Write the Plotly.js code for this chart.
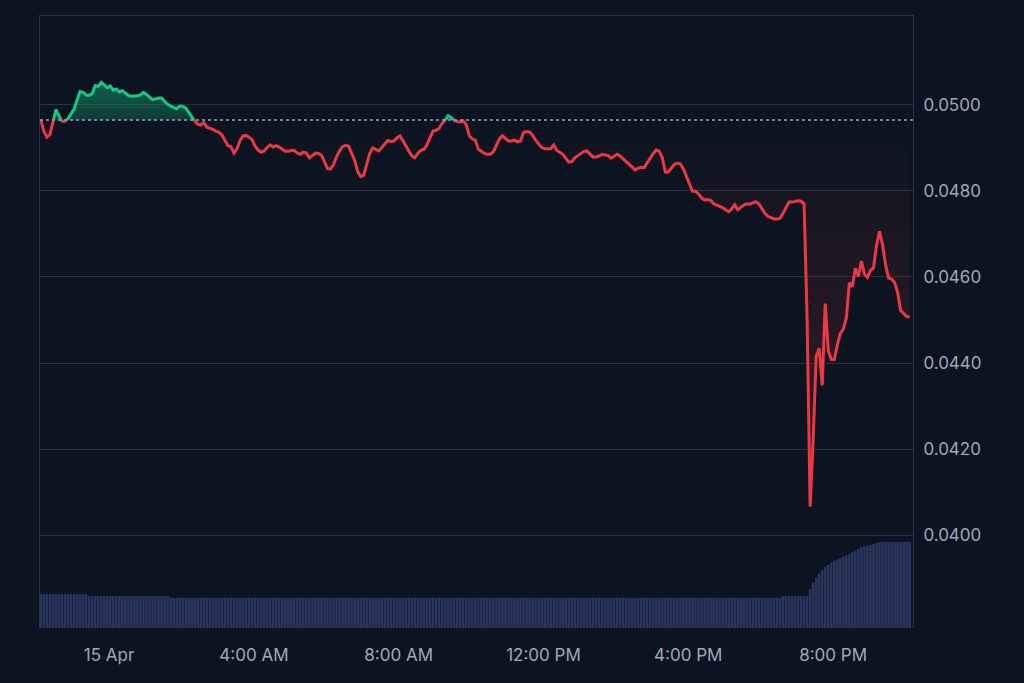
<!DOCTYPE html>
<html>
<head>
<meta charset="utf-8">
<script src="https://cdn.plot.ly/plotly-3.0.1.min.js"></script>
<style>
  html, body { margin: 0; padding: 0; background: #0d1421; }
  #chart { width: 1024px; height: 683px; }
</style>
</head>
<body>
<div id="chart"></div>
<script>
// 24h price, one point every 5 minutes
var startTime = Date.UTC(2024, 3, 14, 22, 7);
var stepMinutes = 5;

var prices = [
  0.04965, 0.04938, 0.04925, 0.04931, 0.04960, 0.04989, 0.04974, 0.04962, 0.04962, 0.04968,
  0.04979, 0.04990, 0.05012, 0.05031, 0.05029, 0.05023, 0.05022, 0.05026, 0.05045, 0.05043,
  0.05052, 0.05046, 0.05040, 0.05044, 0.05034, 0.05037, 0.05030, 0.05033, 0.05027, 0.05022,
  0.05020, 0.05020, 0.05021, 0.05023, 0.05029, 0.05024, 0.05018, 0.05012, 0.05014, 0.05016,
  0.05016, 0.05009, 0.05001, 0.04997, 0.04994, 0.04991, 0.04997, 0.04996, 0.04993, 0.04983,
  0.04972, 0.04962, 0.04955, 0.04953, 0.04959, 0.04948, 0.04946, 0.04943, 0.04939, 0.04936,
  0.04930, 0.04916, 0.04905, 0.04903, 0.04888, 0.04898, 0.04917, 0.04928, 0.04929, 0.04925,
  0.04919, 0.04904, 0.04895, 0.04890, 0.04893, 0.04901, 0.04907, 0.04902, 0.04905, 0.04902,
  0.04897, 0.04892, 0.04892, 0.04894, 0.04894, 0.04888, 0.04885, 0.04890, 0.04888, 0.04877,
  0.04882, 0.04888, 0.04887, 0.04883, 0.04868, 0.04852, 0.04851, 0.04861, 0.04879, 0.04893,
  0.04903, 0.04906, 0.04904, 0.04889, 0.04871, 0.04845, 0.04833, 0.04836, 0.04862, 0.04887,
  0.04900, 0.04897, 0.04893, 0.04901, 0.04908, 0.04917, 0.04915, 0.04916, 0.04923, 0.04928,
  0.04917, 0.04903, 0.04892, 0.04881, 0.04877, 0.04888, 0.04894, 0.04897, 0.04907, 0.04924,
  0.04939, 0.04941, 0.04945, 0.04957, 0.04964, 0.04975, 0.04970, 0.04964, 0.04961, 0.04960,
  0.04963, 0.04954, 0.04928, 0.04921, 0.04918, 0.04897, 0.04892, 0.04887, 0.04885, 0.04885,
  0.04891, 0.04905, 0.04921, 0.04928, 0.04921, 0.04916, 0.04916, 0.04918, 0.04914, 0.04916,
  0.04936, 0.04938, 0.04937, 0.04929, 0.04918, 0.04908, 0.04901, 0.04898, 0.04898, 0.04898,
  0.04907, 0.04894, 0.04890, 0.04885, 0.04876, 0.04867, 0.04868, 0.04877, 0.04882, 0.04888,
  0.04892, 0.04893, 0.04887, 0.04879, 0.04879, 0.04881, 0.04885, 0.04883, 0.04882, 0.04876,
  0.04881, 0.04885, 0.04881, 0.04875, 0.04869, 0.04863, 0.04855, 0.04849, 0.04853, 0.04855,
  0.04854, 0.04865, 0.04879, 0.04887, 0.04895, 0.04892, 0.04877, 0.04844, 0.04844, 0.04854,
  0.04862, 0.04864, 0.04863, 0.04851, 0.04834, 0.04815, 0.04799, 0.04799, 0.04793, 0.04784,
  0.04779, 0.04780, 0.04778, 0.04770, 0.04767, 0.04764, 0.04761, 0.04756, 0.04752, 0.04758,
  0.04768, 0.04756, 0.04762, 0.04767, 0.04770, 0.04769, 0.04772, 0.04775, 0.04770, 0.04759,
  0.04748, 0.04741, 0.04737, 0.04735, 0.04735, 0.04736, 0.04748, 0.04763, 0.04774, 0.04774,
  0.04775, 0.04777, 0.04776, 0.04770, 0.04499, 0.04066, 0.04220, 0.04415, 0.04434, 0.04348,
  0.04538, 0.04429, 0.04408, 0.04408, 0.04441, 0.04469, 0.04479, 0.04504, 0.04587, 0.04577,
  0.04620, 0.04601, 0.04637, 0.04607, 0.04599, 0.04615, 0.04621, 0.04673, 0.04706, 0.04675,
  0.04628, 0.04598, 0.04595, 0.04587, 0.04564, 0.04522, 0.04515, 0.04508, 0.04507
];

// 24h volume (millions), same timestamps
var volumes = [
  1.32, 1.32, 1.32, 1.32, 1.32, 1.32, 1.32, 1.32, 1.32, 1.32,
  1.32, 1.32, 1.32, 1.32, 1.32, 1.32, 1.24, 1.24, 1.24, 1.24,
  1.24, 1.24, 1.24, 1.24, 1.24, 1.24, 1.24, 1.24, 1.24, 1.24,
  1.24, 1.24, 1.24, 1.24, 1.24, 1.24, 1.24, 1.24, 1.24, 1.24,
  1.24, 1.24, 1.24, 1.17, 1.17, 1.17, 1.17, 1.17, 1.17, 1.17,
  1.17, 1.17, 1.17, 1.17, 1.17, 1.17, 1.17, 1.17, 1.17, 1.17,
  1.17, 1.17, 1.17, 1.17, 1.17, 1.17, 1.17, 1.17, 1.17, 1.17,
  1.17, 1.17, 1.17, 1.17, 1.17, 1.17, 1.17, 1.17, 1.17, 1.17,
  1.17, 1.17, 1.17, 1.17, 1.17, 1.17, 1.17, 1.17, 1.17, 1.17,
  1.17, 1.17, 1.17, 1.17, 1.17, 1.17, 1.17, 1.17, 1.17, 1.17,
  1.17, 1.17, 1.17, 1.17, 1.17, 1.17, 1.17, 1.17, 1.17, 1.17,
  1.17, 1.17, 1.17, 1.17, 1.17, 1.17, 1.17, 1.17, 1.17, 1.17,
  1.17, 1.17, 1.17, 1.17, 1.17, 1.17, 1.17, 1.17, 1.17, 1.17,
  1.17, 1.17, 1.17, 1.17, 1.17, 1.17, 1.17, 1.17, 1.17, 1.17,
  1.17, 1.17, 1.17, 1.17, 1.17, 1.17, 1.17, 1.17, 1.17, 1.17,
  1.17, 1.17, 1.17, 1.17, 1.17, 1.17, 1.17, 1.17, 1.17, 1.17,
  1.17, 1.17, 1.17, 1.17, 1.17, 1.17, 1.17, 1.17, 1.17, 1.17,
  1.17, 1.17, 1.17, 1.17, 1.17, 1.17, 1.17, 1.17, 1.17, 1.17,
  1.17, 1.17, 1.17, 1.17, 1.17, 1.17, 1.17, 1.17, 1.17, 1.17,
  1.17, 1.17, 1.17, 1.17, 1.17, 1.15, 1.15, 1.15, 1.17, 1.17,
  1.17, 1.17, 1.17, 1.17, 1.17, 1.17, 1.17, 1.17, 1.17, 1.17,
  1.17, 1.17, 1.17, 1.17, 1.17, 1.17, 1.17, 1.17, 1.17, 1.17,
  1.17, 1.17, 1.17, 1.17, 1.17, 1.17, 1.17, 1.17, 1.17, 1.17,
  1.17, 1.17, 1.17, 1.17, 1.17, 1.17, 1.17, 1.17, 1.17, 1.17,
  1.17, 1.17, 1.17, 1.17, 1.17, 1.17, 1.24, 1.24, 1.24, 1.24,
  1.24, 1.24, 1.24, 1.24, 1.24, 1.52, 1.78, 1.98, 2.15, 2.28,
  2.40, 2.50, 2.58, 2.65, 2.70, 2.76, 2.82, 2.88, 2.94, 3.00,
  3.06, 3.13, 3.20, 3.23, 3.26, 3.29, 3.33, 3.37, 3.40, 3.41,
  3.41, 3.41, 3.41, 3.41, 3.41, 3.41, 3.41, 3.41, 3.41
];

var tickTimes = ['2024-04-15 00:00', '2024-04-15 04:00', '2024-04-15 08:00',
                 '2024-04-15 12:00', '2024-04-15 16:00', '2024-04-15 20:00'];
var tickLabels = ['15 Apr', '4:00 AM', '8:00 AM', '12:00 PM', '4:00 PM', '8:00 PM'];
var priceTicks = [0.0400, 0.0420, 0.0440, 0.0460, 0.0480, 0.0500];

var green = '#16c784';
var red = '#ea3943';
var base = prices[0];

var times = prices.map(function (p, i) { return startTime + i * stepMinutes * 60000; });

// split into above / below the opening price, adding the crossing points
var fX = [], upFill = [], dnFill = [];
var upX = [], upY = [], dnX = [], dnY = [];
for (var i = 0; i < prices.length; i++) {
  if (i > 0) {
    var a = prices[i - 1] - base, b = prices[i] - base;
    if ((a > 0 && b < 0) || (a < 0 && b > 0)) {
      var tc = times[i - 1] + (times[i] - times[i - 1]) * a / (a - b);
      fX.push(tc); upFill.push(base); dnFill.push(base);
      upX.push(tc); upY.push(base);
      dnX.push(tc); dnY.push(base);
    }
  }
  var p = prices[i];
  fX.push(times[i]);
  upFill.push(Math.max(p, base));
  dnFill.push(Math.min(p, base));
  upX.push(times[i]); upY.push(p >= base ? p : null);
  dnX.push(times[i]); dnY.push(p <= base ? p : null);
}
var baseLine = fX.map(function () { return base; });
var minP = Math.min.apply(null, prices);
var maxP = Math.max.apply(null, prices);

var data = [
  { x: fX, y: baseLine, type: 'scatter', mode: 'lines', line: { width: 0 }, hoverinfo: 'skip' },
  { x: fX, y: upFill, type: 'scatter', mode: 'lines', line: { width: 0 }, fill: 'tonexty',
    fillgradient: { type: 'vertical', start: base, stop: maxP,
      colorscale: [[0, 'rgba(22,199,132,0.22)'], [1, 'rgba(22,199,132,0.42)']] },
    hoverinfo: 'skip' },
  { x: fX, y: baseLine, type: 'scatter', mode: 'lines', line: { width: 0 }, hoverinfo: 'skip' },
  { x: fX, y: dnFill, type: 'scatter', mode: 'lines', line: { width: 0 }, fill: 'tonexty',
    fillgradient: { type: 'vertical', start: minP, stop: base,
      colorscale: [[0, 'rgba(234,57,67,0.2)'], [1, 'rgba(234,57,67,0.0)']] },
    hoverinfo: 'skip' },
  { x: dnX, y: dnY, type: 'scatter', mode: 'lines', connectgaps: false,
    line: { color: red, width: 3 } },
  { x: upX, y: upY, type: 'scatter', mode: 'lines', connectgaps: false,
    line: { color: green, width: 3 } },
  { x: times, y: volumes, type: 'bar', yaxis: 'y2',
    marker: { color: '#2b365f', line: { width: 0 } } }
];

var layout = {
  width: 1024, height: 683,
  paper_bgcolor: '#0d1421',
  plot_bgcolor: '#0d1421',
  showlegend: false,
  margin: { l: 40, r: 111, t: 16, b: 56 },
  bargap: 0.15,
  font: { family: 'Inter, "Noto Sans", sans-serif', color: '#a1a7b7', size: 17 },
  xaxis: {
    type: 'date',
    range: ['2024-04-14 22:05:30', '2024-04-15 22:12:30'],
    tickvals: tickTimes, ticktext: tickLabels,
    showgrid: false, zeroline: false,
    showline: true, mirror: true, linecolor: '#2c3344', linewidth: 1,
    ticks: '', ticklabelstandoff: 13
  },
  yaxis: {
    side: 'right',
    range: [0.037865, 0.052065],
    tickvals: priceTicks, tickformat: '.4f',
    showgrid: true, gridcolor: '#2a3140', gridwidth: 1,
    zeroline: false,
    showline: true, mirror: true, linecolor: '#2c3344', linewidth: 1,
    ticks: '', ticklabelstandoff: 6
  },
  yaxis2: {
    overlaying: 'y', range: [0, 24.48], visible: false, fixedrange: true
  },
  shapes: [{
    type: 'line', xref: 'paper', x0: 0, x1: 1, yref: 'y', y0: base, y1: base,
    line: { color: '#9aa0ad', width: 1.5, dash: 'dot' }
  }],
  hovermode: false
};

Plotly.newPlot('chart', data, layout, { displayModeBar: false, staticPlot: true });
</script>
</body>
</html>
